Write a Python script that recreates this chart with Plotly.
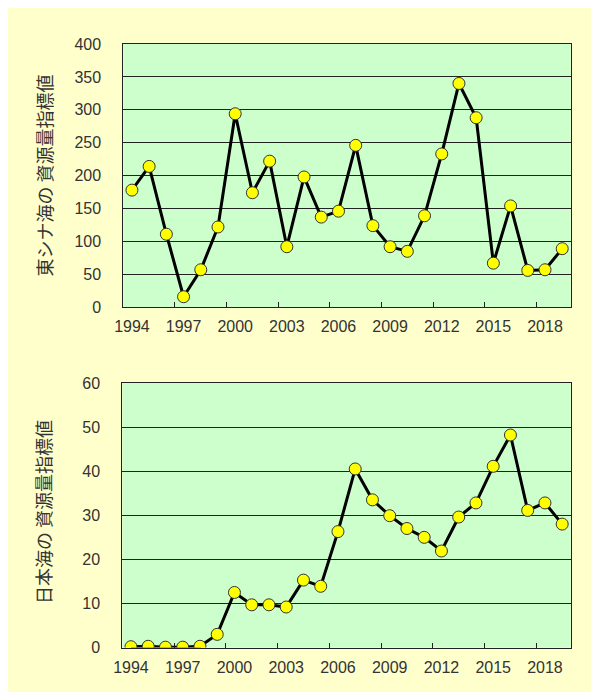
import plotly.graph_objects as go

years = list(range(1994, 2020))
east_china_sea = [178, 214, 111, 16, 57, 122, 294, 174, 222, 92, 198, 137, 146, 246,
                  124, 92, 85, 139, 233, 340, 288, 67, 154, 56, 57, 89]
sea_of_japan = [0.2, 0.3, 0.1, 0.1, 0.3, 3.0, 12.5, 9.7, 9.7, 9.2, 15.3, 13.9, 26.3, 40.5,
                33.5, 29.9, 27.0, 25.0, 21.9, 29.6, 32.8, 41.1, 48.2, 31.1, 32.8, 28.0]
xtick_labels = [1994, 1997, 2000, 2003, 2006, 2009, 2012, 2015, 2018]
boundary_ticks = [1996.5, 1999.5, 2002.5, 2005.5, 2008.5, 2011.5, 2014.5, 2017.5]
title_top = "東シナ海の 資源量指標値"
title_bottom = "日本海の 資源量指標値"

# the page keeps an 8px body margin; figure sized so the page is exactly 599x700
OFF = 8
W, H = 599 - 2 * OFF, 700 - 2 * OFF
FONT = "Liberation Sans, Arial, sans-serif"
TXT = "#333333"

def px_x(a, b):
    return [(a - OFF) / W, (b - OFF) / W]

def px_y(top, bottom):
    return [1 - (bottom - OFF) / H, 1 - (top - OFF) / H]

fig = go.Figure()
line = dict(color="black", width=3)
marker = dict(size=12, color="#FFFF00", line=dict(color="#333333", width=1))
fig.add_trace(go.Scatter(x=years, y=east_china_sea, mode="lines+markers", line=line,
                         marker=marker, xaxis="x", yaxis="y", showlegend=False))
fig.add_trace(go.Scatter(x=years, y=sea_of_japan, mode="lines+markers", line=line,
                         marker=marker, xaxis="x2", yaxis="y2", showlegend=False))

def xaxis(dom, anchor):
    return dict(domain=dom, anchor=anchor, range=[1993.5, 2019.5], tickmode="array",
                tickvals=xtick_labels, ticktext=[str(v) for v in xtick_labels], ticks="",
                showgrid=False, zeroline=False, showline=True, linecolor="#222222",
                linewidth=1, mirror=True, ticklabelstandoff=5,
                tickfont=dict(family=FONT, size=16, color=TXT),
                minor=dict(tickmode="array", tickvals=boundary_ticks, ticks="inside",
                           ticklen=5, tickcolor="#222222", tickwidth=1, showgrid=False))

def yaxis(dom, anchor, rng, dtick):
    return dict(domain=dom, anchor=anchor, range=rng, dtick=dtick, tick0=0, ticks="",
                showgrid=True, gridcolor="#222222", gridwidth=1, zeroline=False,
                showline=True, linecolor="#222222", linewidth=1, mirror=True,
                ticklabelstandoff=18, tickfont=dict(family=FONT, size=16, color=TXT))

fig.update_layout(
    width=W, height=H, margin=dict(l=0, r=0, t=0, b=0),
    paper_bgcolor="#FFFFCC", plot_bgcolor="#CCFFCC",
    xaxis=xaxis(px_x(116, 570.5), "y"),
    yaxis=yaxis(px_y(36.7, 306.7), "x", [0, 400], 50),
    xaxis2=xaxis(px_x(115, 570.5), "y2"),
    yaxis2=yaxis(px_y(384.3, 655.7), "x2", [0, 60], 10),
    font=dict(family=FONT, color=TXT),
)

fig.add_annotation(text=title_top, xref="paper", yref="paper", x=(35 - OFF) / W,
                   y=1 - (172 - OFF) / H, textangle=-90, showarrow=False,
                   xanchor="center", yanchor="middle",
                   font=dict(family="Noto Sans CJK JP", size=18, color=TXT))
fig.add_annotation(text=title_bottom, xref="paper", yref="paper", x=(35 - OFF) / W,
                   y=1 - (517 - OFF) / H, textangle=-90, showarrow=False,
                   xanchor="center", yanchor="middle",
                   font=dict(family="Noto Sans CJK JP", size=18, color=TXT))

fig.write_html("out.html", config={"displayModeBar": False})
